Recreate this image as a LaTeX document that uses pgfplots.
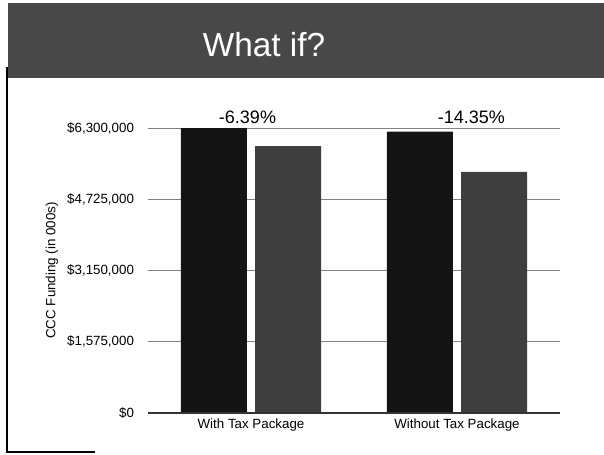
\documentclass[border=0pt]{standalone}
\usepackage{pgfplots}
\pgfplotsset{compat=1.18}
\usepackage{fontspec}
\setmainfont{Liberation Sans}
\definecolor{banner}{RGB}{72,72,72}
\definecolor{darkbar}{RGB}{20,20,20}
\definecolor{lightbar}{RGB}{62,62,62}
\definecolor{gridc}{RGB}{130,130,130}
\begin{document}
\begin{tikzpicture}
\fill[white] (0,0) rectangle (453pt,340.5pt);
\fill[banner] (6pt,282pt) rectangle (453pt,338.5pt);
\node[text=black!70,font=\fontsize{25}{28}\selectfont] at (199pt,305.75pt) {What if?};
\node[text=white,font=\fontsize{25}{28}\selectfont] at (198pt,306.75pt) {What if?};
\draw[black,line width=1.5pt] (5.25pt,290pt) -- (5.25pt,1.5pt) -- (71pt,1.5pt);
\begin{axis}[
  at={(111pt,30.75pt)}, anchor=south west,
  scale only axis, width=309pt, height=213.75pt,
  xmin=-0.5, xmax=1.5, ymin=0, ymax=6300000,
  axis line style={draw=none},
  xtick={0,1}, xticklabels={With Tax Package, Without Tax Package},
  ytick={0,1575000,3150000,4725000,6300000},
  yticklabels={{\$0},{\$1,575,000},{\$3,150,000},{\$4,725,000},{\$6,300,000}},
  scaled y ticks=false,
  major tick length=0pt,
  ymajorgrids, grid style={gridc, line width=0.7pt},
  tick label style={font=\fontsize{10}{12}\selectfont},
  yticklabel style={xshift=-7pt},
  xticklabel style={yshift=-1pt, font=\fontsize{10}{12}\selectfont},
  ylabel={CCC Funding (in 000s)},
  ylabel style={at={(axis description cs:-0.233,0.5)}, anchor=center, font=\fontsize{10}{12}\selectfont},
  clip=false,
  axis on top=false,
]
\addplot[ybar, bar width=0.32, bar shift=-0.18, fill=darkbar, draw=none]
  coordinates {(0,6300000) (1,6220000)};
\addplot[ybar, bar width=0.32, bar shift=0.18, fill=lightbar, draw=none]
  coordinates {(0,5897000) (1,5330000)};
\draw[black!80, line width=0.8pt] (axis cs:-0.5,0) -- (axis cs:1.5,0);
\node[font=\fontsize{13.5}{15}\selectfont] at (axis cs:-0.017,6540000) {-6.39\%};
\node[font=\fontsize{13.5}{15}\selectfont] at (axis cs:1.07,6540000) {-14.35\%};
\end{axis}
\end{tikzpicture}
\end{document}
